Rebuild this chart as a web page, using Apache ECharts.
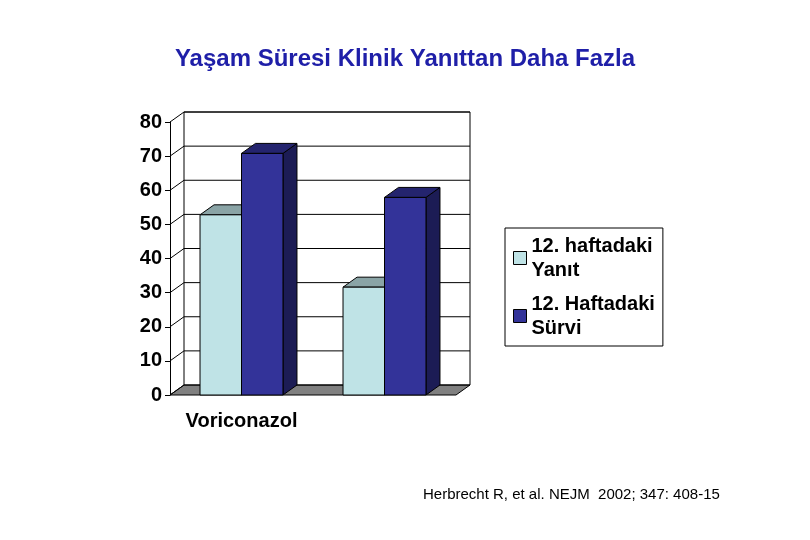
<!DOCTYPE html><html><head><meta charset="utf-8">
<script src="https://cdn.jsdelivr.net/npm/echarts@6/dist/echarts.min.js"></script></head>
<body style="margin:0;background:#fff"><div id="c" style="width:810px;height:540px"></div>
<script>
const categories=['Voriconazol','Ampfoterisin\nB'];
const seriesNames=['12. haftadaki\nYanıt','12. Haftadaki\nSürvi'];
const response=[52.8,31.6];
const survival=[70.8,57.9];
const yTicks=[0,10,20,30,40,50,60,70,80];
const DX=14,DY=-10;
const frontCol=['#bfe3e6','#333399'],topCol=['#8aa4a6','#24246e'],sideCol=['#7d9799','#1c1c55'];
function bar(k){return function(p,api){
  const c=api.value(0),v=api.value(1);
  const bw=api.size([1,0])[0]*0.29;
  const base=api.coord([c,0]),t=api.coord([c,v]);
  const x0=base[0]+(k===0?-bw:0),x1=x0+bw,y0=base[1],y1=t[1];
  const st={stroke:'#000',lineWidth:1};
  return {type:'group',children:[
    {type:'polygon',shape:{points:[[x1,y0],[x1+DX,y0+DY],[x1+DX,y1+DY],[x1,y1]]},style:Object.assign({fill:sideCol[k]},st)},
    {type:'polygon',shape:{points:[[x0,y1],[x0+DX,y1+DY],[x1+DX,y1+DY],[x1,y1]]},style:Object.assign({fill:topCol[k]},st)},
    {type:'rect',shape:{x:x0,y:y1,width:bw,height:y0-y1},style:Object.assign({fill:frontCol[k]},st)}
  ]};};}
function wall(p,api){
  const a=api.coord([0,0]),w=api.size([1,0])[0];
  const xl=a[0]-w/2,xr=xl+w*2,yb=a[1];
  const ch=[];
  ch.push({type:'polygon',shape:{points:[[xl,yb],[xl+DX,yb+DY],[xr+DX,yb+DY],[xr,yb]]},style:{fill:'#808080',stroke:'#000'}});
  const yt=api.coord([0,yTicks[yTicks.length-1]])[1];
  ch.push({type:'polyline',shape:{points:[[xl+DX,yb+DY],[xl+DX,yt+DY],[xr+DX,yt+DY],[xr+DX,yb+DY]]},style:{fill:null,stroke:'#000'}});
  yTicks.forEach(t=>{const y=api.coord([0,t])[1];
    ch.push({type:'polyline',shape:{points:[[xl,y],[xl+DX,y+DY],[xr+DX,y+DY]]},style:{fill:null,stroke:'#000',lineWidth:1}});});
  return {type:'group',children:ch};
}
const chart=echarts.init(document.getElementById('c'));
chart.setOption({
  animation:false,
  title:[{text:'Yaşam Süresi Klinik Yanıttan Daha Fazla',left:'center',top:42,textStyle:{color:'#1f1fa8',fontSize:24,fontWeight:'bold',fontFamily:'Liberation Sans'}},
    {text:'Herbrecht R, et al. NEJM  2002; 347: 408-15',left:418,top:482,textStyle:{color:'#000',fontSize:15,fontWeight:'normal',fontFamily:'Liberation Sans'}}],
  legend:{orient:'vertical',left:505,top:228,width:168,height:114,padding:[6,8,6,8],itemGap:10,itemWidth:13,itemHeight:13,icon:'rect',
    borderColor:'#000',borderWidth:1,textStyle:{fontSize:20,fontWeight:'bold',fontFamily:'Liberation Sans',color:'#000',lineHeight:24},
    data:[{name:seriesNames[0],itemStyle:{color:frontCol[0],borderColor:'#000',borderWidth:1}},{name:seriesNames[1],itemStyle:{color:frontCol[1],borderColor:'#000',borderWidth:1}}]},
  grid:{left:170,right:354,top:122,bottom:145},
  xAxis:{type:'category',data:categories,axisTick:{show:false},axisLine:{show:false},
    axisLabel:{fontSize:20,fontWeight:'bold',fontFamily:'Liberation Sans',color:'#000',margin:14,lineHeight:24}},
  yAxis:{type:'value',min:0,max:80,interval:10,splitLine:{show:false},
    axisLine:{show:true,lineStyle:{color:'#000'}},axisTick:{show:true,length:5,lineStyle:{color:'#000'}},
    axisLabel:{fontSize:20,fontWeight:'bold',fontFamily:'Liberation Sans',color:'#000',margin:8}},
  series:[
    {type:'custom',name:'wall',data:[[0,0]],renderItem:wall,silent:true,z:1},
    {type:'custom',name:seriesNames[0],itemStyle:{color:frontCol[0]},data:response.map((v,i)=>[i,v]),renderItem:bar(0),z:2},
    {type:'custom',name:seriesNames[1],itemStyle:{color:frontCol[1]},data:survival.map((v,i)=>[i,v]),renderItem:bar(1),z:2}
  ]
});
</script></body></html>
